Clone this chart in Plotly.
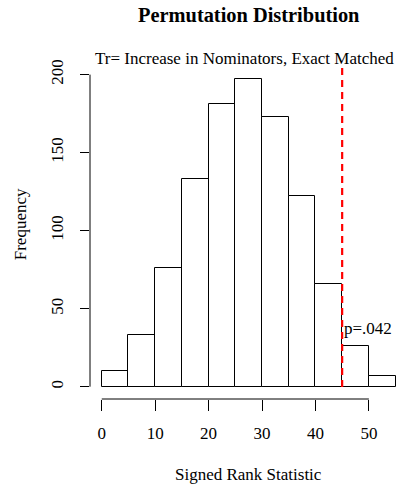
import plotly.graph_objects as go

# Histogram data (bin edges every 5 from 0 to 55)
bin_left = [0, 5, 10, 15, 20, 25, 30, 35, 40, 45, 50]
bin_width = 5
counts = [10, 33, 76, 133, 181, 197, 173, 122, 66, 26, 7]
x_ticks = [0, 10, 20, 30, 40, 50]
y_ticks = [0, 50, 100, 150, 200]
observed_stat = 45
p_label = "p=.042"
p_label_y = 37

title = "Permutation Distribution"
subtitle = "Tr= Increase in Nominators, Exact Matched"
x_title = "Signed Rank Statistic"
y_title = "Frequency"

W, H = 402, 489
L, R, T, B = 90, 0, 66.5, 90
pw, ph = W - L - R, H - T - B
FONT = "Times New Roman, Liberation Serif, Times, serif"


def px(xp):
    return (xp - L) / pw


def py(yp):
    return (H - B - yp) / ph


centers = [b + bin_width / 2 for b in bin_left]

fig = go.Figure()
fig.add_trace(go.Bar(
    x=centers, y=counts, width=[bin_width] * len(counts),
    marker=dict(color="white", line=dict(color="black", width=1)),
    hoverinfo="skip", showlegend=False,
))

xmin, xmax = bin_left[0], bin_left[-1] + bin_width
ymax = max(counts)
xr = [xmin - 0.04 * (xmax - xmin), 56.2]
yr = [-0.04 * ymax, ymax * 1.04]

fig.update_layout(
    width=W, height=H,
    margin=dict(l=L, r=R, t=T, b=B),
    plot_bgcolor="white", paper_bgcolor="white",
    font=dict(family=FONT, size=17, color="black"),
    bargap=0,
    xaxis=dict(range=xr, showgrid=False, zeroline=False, showline=False,
               tickmode="array", tickvals=x_ticks, ticktext=[str(v) for v in x_ticks],
               ticks="outside", ticklen=11, tickwidth=1, tickcolor="black",
               ticklabelstandoff=8,
               tickfont=dict(family=FONT, size=17, color="black")),
    yaxis=dict(range=yr, showgrid=False, zeroline=False, showline=False,
               tickmode="array", tickvals=y_ticks, ticktext=[str(v) for v in y_ticks],
               ticks="outside", ticklen=9, tickwidth=1, tickcolor="black",
               tickangle=-90, ticklabelstandoff=10,
               tickfont=dict(family=FONT, size=17, color="black")),
    shapes=[
        dict(type="line", xref="x", yref="paper", x0=x_ticks[0], x1=x_ticks[-1], y0=0, y1=0,
             line=dict(color="black", width=1)),
        dict(type="line", xref="paper", yref="y", x0=0, x1=0, y0=y_ticks[0], y1=y_ticks[-1],
             line=dict(color="black", width=1)),
        dict(type="line", xref="x", yref="paper", x0=observed_stat, x1=observed_stat,
             y0=py(387), y1=1,
             line=dict(color="red", width=2.2, dash="7px,5px")),
    ],
    annotations=[
        dict(text="<b>" + title + "</b>", xref="paper", yref="paper", x=px(249), y=py(14),
             xanchor="center", yanchor="middle", showarrow=False,
             font=dict(family=FONT, size=20.4, color="black")),
        dict(text=subtitle, xref="paper", yref="paper", x=px(244), y=py(58),
             xanchor="center", yanchor="middle", showarrow=False,
             font=dict(family=FONT, size=17, color="black")),
        dict(text=x_title, xref="paper", yref="paper", x=px(248), y=py(475),
             xanchor="center", yanchor="middle", showarrow=False,
             font=dict(family=FONT, size=17, color="black")),
        dict(text=y_title, xref="paper", yref="paper", x=px(20), y=py(224),
             xanchor="center", yanchor="middle", showarrow=False, textangle=-90,
             font=dict(family=FONT, size=17, color="black")),
        dict(text=p_label, xref="x", yref="y", x=observed_stat, y=p_label_y,
             xanchor="left", yanchor="middle", showarrow=False, xshift=0,
             font=dict(family=FONT, size=17, color="black")),
    ],
)

fig.write_html("out.html")
